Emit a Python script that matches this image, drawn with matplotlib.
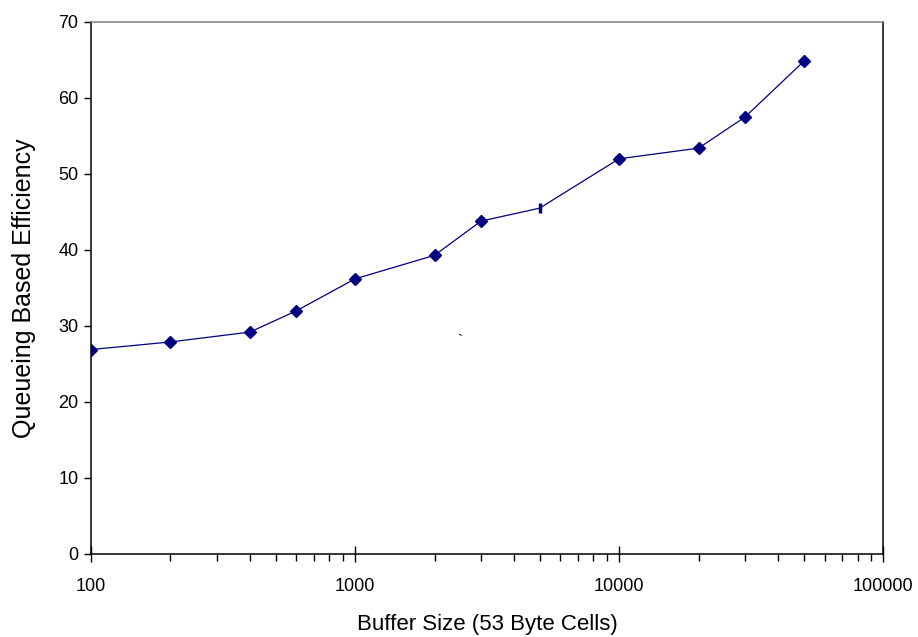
import numpy as np
import matplotlib.pyplot as plt
from matplotlib.ticker import LogLocator, FixedLocator, NullFormatter

plt.rcParams['font.family'] = ['Liberation Sans', 'DejaVu Sans']

# buffer size (cells) vs. efficiency
buffer_size = [100, 200, 400, 600, 1000, 2000, 3000, 5000, 10000, 20000, 30000, 50000]
efficiency = [26.9, 27.9, 29.2, 32.0, 36.2, 39.3, 43.8, 45.5, 52.0, 53.4, 57.5, 64.8]
x_ticks = [100, 1000, 10000, 100000]
y_ticks = [0, 10, 20, 30, 40, 50, 60, 70]

navy = '#000080'

fig = plt.figure(figsize=(9.18, 6.37), dpi=100)
ax = fig.add_axes([0.0991, 0.1303, 0.8629, 0.8352])

ax.plot(buffer_size, efficiency, color=navy, lw=0.9, zorder=2)
diamonds = [i for i in range(len(buffer_size)) if buffer_size[i] != 5000]
ax.plot([buffer_size[i] for i in diamonds], [efficiency[i] for i in diamonds],
        ls='none', marker='D', ms=6.3, color=navy, zorder=3)
odd = buffer_size.index(5000)
ax.plot([buffer_size[odd]], [efficiency[odd]], ls='none', marker='|',
        ms=7.5, mew=2.5, color=navy, zorder=3)

ax.set_xscale('log')
ax.set_xlim(100, 100000)
ax.set_ylim(0, 70)
ax.xaxis.set_major_locator(FixedLocator(x_ticks))
ax.set_xticklabels([str(v) for v in x_ticks])
ax.xaxis.set_minor_locator(LogLocator(base=10, subs=np.arange(2, 10)))
ax.xaxis.set_minor_formatter(NullFormatter())
ax.set_yticks(y_ticks)

ax.tick_params(axis='x', which='major', direction='inout', length=12, width=1,
               pad=11, labelsize=13, colors='black')
ax.tick_params(axis='x', which='minor', direction='out', length=5, width=1)
ax.tick_params(axis='y', which='major', direction='out', length=5, width=1,
               pad=4, labelsize=13)

for side in ['left', 'right', 'bottom']:
    ax.spines[side].set_color('black')
    ax.spines[side].set_linewidth(1.1)
ax.spines['top'].set_color('#808080')
ax.spines['top'].set_linewidth(1.1)

ax.set_xlabel('Buffer Size (53 Byte Cells)', fontsize=16, labelpad=14)
ax.set_ylabel('Queueing Based Efficiency', fontsize=18, labelpad=16)

# small stray mark in the plot area
ax.text(2500, 28.0, '`', fontsize=11, ha='center', va='center', color='black')

fig.savefig('out.png', dpi=100)
